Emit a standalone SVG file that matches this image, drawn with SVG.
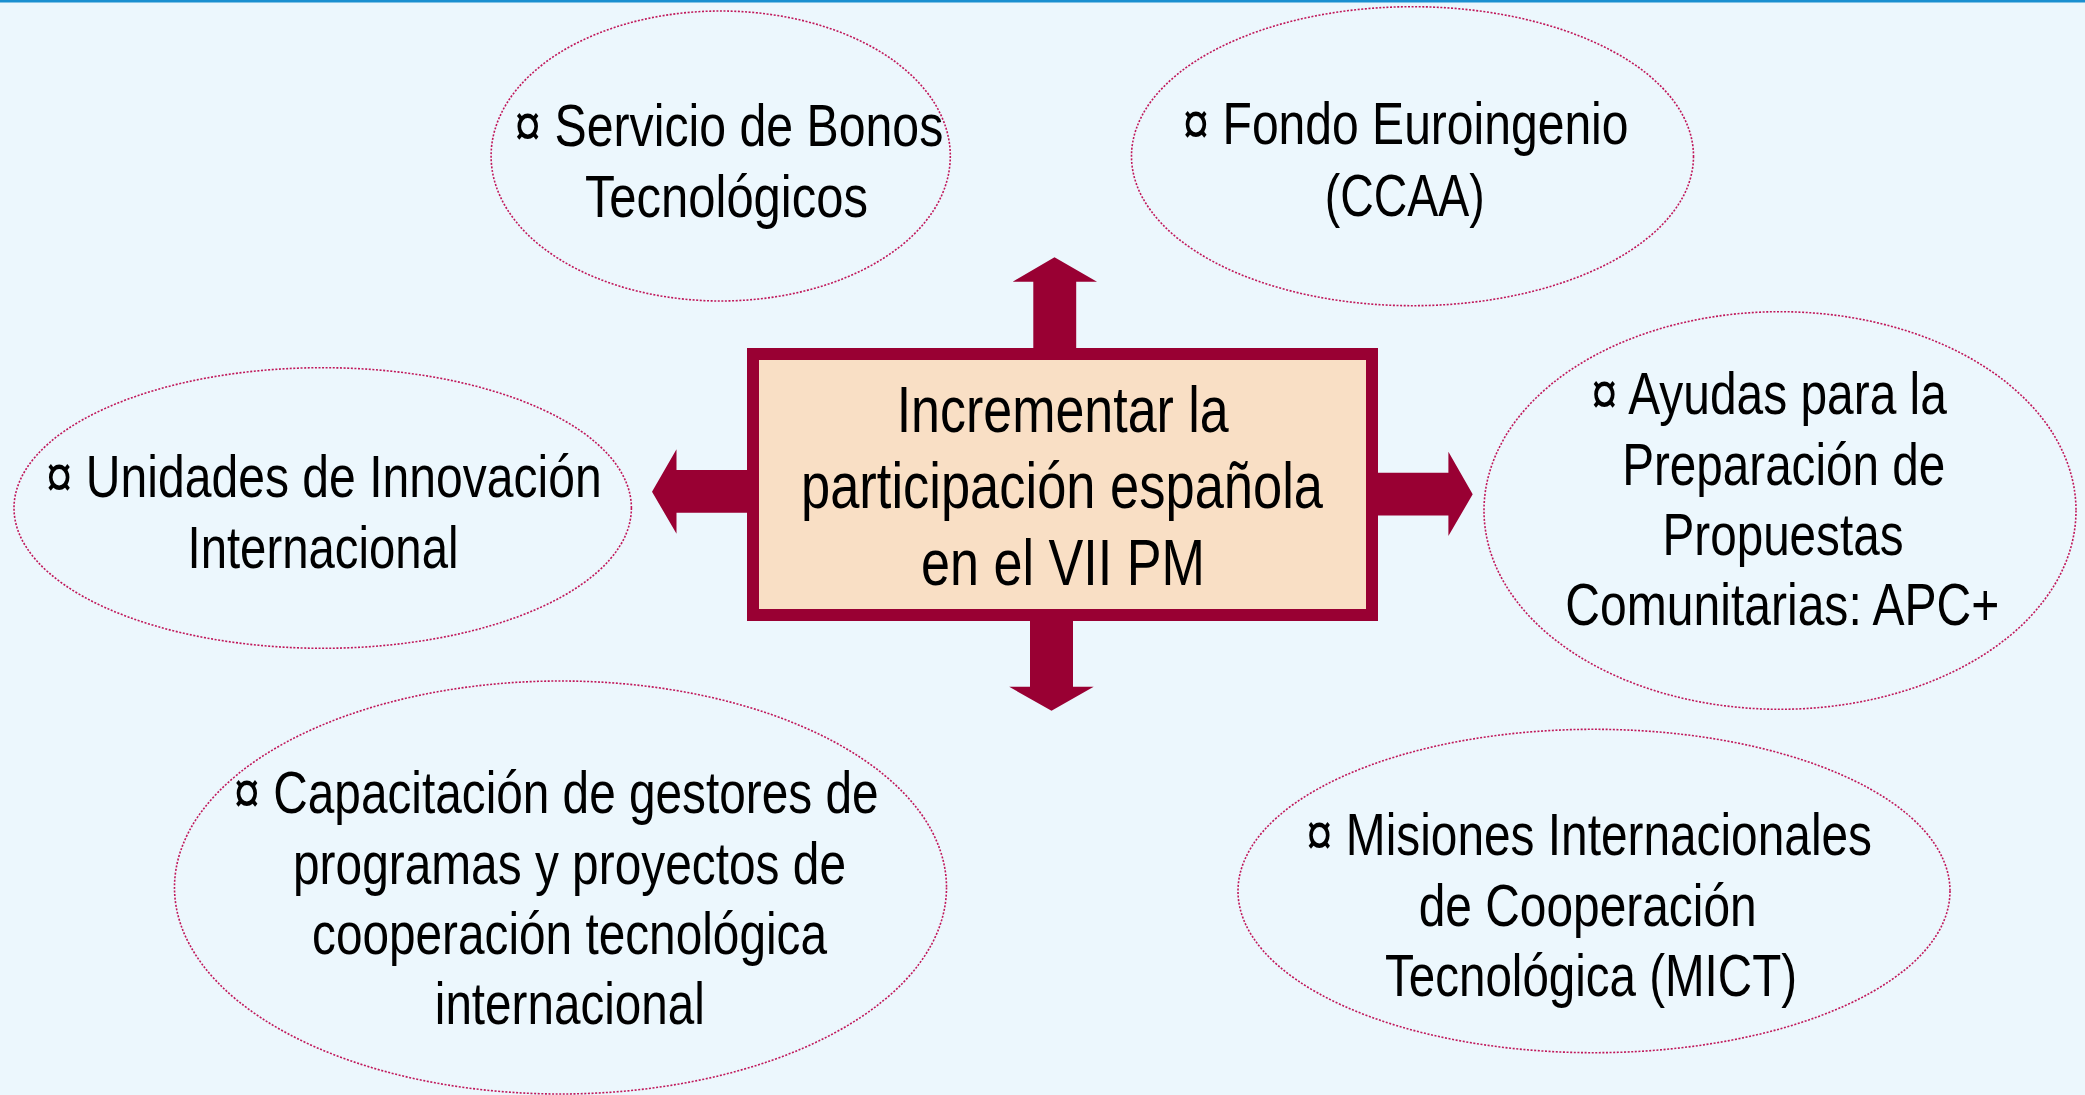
<svg xmlns="http://www.w3.org/2000/svg" width="2085" height="1095" viewBox="0 0 2085 1095">
<style>
  .bg { fill: #ecf7fd; }
  .oval { fill: none; stroke: #c0185a; stroke-width: 1.6; stroke-dasharray: 2 1.6; }
  .t { font-family: "Liberation Sans Narrow", "Liberation Sans", Arial, sans-serif; font-size: 59px; fill: #000; text-anchor: middle; }
  .tc { font-size: 64px; }
  .arrow { fill: #990033; }
</style>
<rect class="bg" x="0" y="0" width="2085" height="1095"/>
<rect x="0" y="0" width="2085" height="2.5" fill="#1a8fd0"/>

<g id="connectors">
  <polygon class="arrow" points="1033.3,349 1033.3,281.7 1012.7,281.7 1054.5,257.3 1097,281.7 1076.2,281.7 1076.2,349"/>
  <polygon class="arrow" points="1030,620 1030,686.8 1009.2,686.8 1051.5,710.8 1093.7,686.8 1073,686.8 1073,620"/>
  <polygon class="arrow" points="748,470 676.5,470 676.5,449.2 652,491.7 676.5,533.8 676.5,512.7 748,512.7"/>
  <polygon class="arrow" points="1377,472.7 1448.4,472.7 1448.4,451.7 1472.7,494.3 1448.4,536 1448.4,515.5 1377,515.5"/>
</g>

<g id="center">
  <rect x="753" y="354" width="619" height="261" fill="#f9dfc5" stroke="#990033" stroke-width="12"/>
  <text class="t tc" x="1062.7" y="432.3" textLength="332" lengthAdjust="spacingAndGlyphs">Incrementar la</text>
  <text class="t tc" x="1062" y="508.3" textLength="522" lengthAdjust="spacingAndGlyphs">participación española</text>
  <text class="t tc" x="1063" y="585" textLength="284" lengthAdjust="spacingAndGlyphs">en el VII PM</text>
</g>

<g id="bonos">
  <ellipse class="oval" cx="720.7" cy="156" rx="229.6" ry="145"/>
  <text class="t" x="728.8" y="145.7" textLength="429" lengthAdjust="spacingAndGlyphs">¤ Servicio de Bonos</text>
  <text class="t" x="726.4" y="216.7" textLength="283" lengthAdjust="spacingAndGlyphs">Tecnológicos</text>
</g>

<g id="euroingenio">
  <ellipse class="oval" cx="1412.5" cy="156.2" rx="281" ry="149.5"/>
  <text class="t" x="1405.5" y="144.3" textLength="446" lengthAdjust="spacingAndGlyphs">¤ Fondo Euroingenio</text>
  <text class="t" x="1404.8" y="216" textLength="160" lengthAdjust="spacingAndGlyphs">(CCAA)</text>
</g>

<g id="unidades">
  <ellipse class="oval" cx="322.7" cy="508" rx="308.7" ry="140.3"/>
  <text class="t" x="323.7" y="496.7" textLength="556" lengthAdjust="spacingAndGlyphs">¤ Unidades de Innovación</text>
  <text class="t" x="323" y="568.3" textLength="271" lengthAdjust="spacingAndGlyphs">Internacional</text>
</g>

<g id="apc">
  <ellipse class="oval" cx="1780" cy="510.5" rx="296" ry="198.8"/>
  <text class="t" x="1768.9" y="414.3" textLength="356" lengthAdjust="spacingAndGlyphs">¤ Ayudas para la</text>
  <text class="t" x="1783.7" y="485" textLength="323" lengthAdjust="spacingAndGlyphs">Preparación de</text>
  <text class="t" x="1783" y="555.3" textLength="241" lengthAdjust="spacingAndGlyphs">Propuestas</text>
  <text class="t" x="1782.3" y="625" textLength="434" lengthAdjust="spacingAndGlyphs">Comunitarias: APC+</text>
</g>

<g id="capacitacion">
  <ellipse class="oval" cx="560.5" cy="887.5" rx="386" ry="206.5"/>
  <text class="t" x="556" y="813.3" textLength="645" lengthAdjust="spacingAndGlyphs">¤ Capacitación de gestores de</text>
  <text class="t" x="569.5" y="884" textLength="553" lengthAdjust="spacingAndGlyphs">programas y proyectos de</text>
  <text class="t" x="569.5" y="954.3" textLength="515" lengthAdjust="spacingAndGlyphs">cooperación tecnológica</text>
  <text class="t" x="569.8" y="1024.3" textLength="270" lengthAdjust="spacingAndGlyphs">internacional</text>
</g>

<g id="misiones">
  <ellipse class="oval" cx="1594" cy="891" rx="356" ry="161.7"/>
  <text class="t" x="1589" y="855" textLength="566" lengthAdjust="spacingAndGlyphs">¤ Misiones Internacionales</text>
  <text class="t" x="1587.7" y="926" textLength="338" lengthAdjust="spacingAndGlyphs">de Cooperación</text>
  <text class="t" x="1591" y="996" textLength="412" lengthAdjust="spacingAndGlyphs">Tecnológica (MICT)</text>
</g>
</svg>
